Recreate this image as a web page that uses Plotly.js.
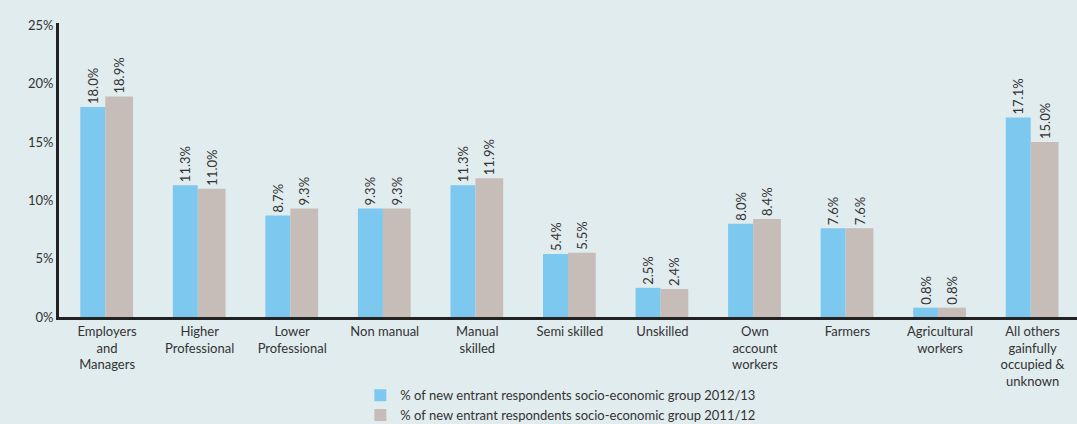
<!DOCTYPE html>
<html><head><meta charset="utf-8">
<script src="https://cdn.plot.ly/plotly-3.0.1.min.js"></script>
<style>html,body{margin:0;padding:0;background:#E1ECEE;}</style>
</head><body>
<div id="chart" style="width:1077px;height:424px;"></div>
<script>
const categories = ["Employers<br>and<br>Managers","Higher<br>Professional","Lower<br>Professional","Non manual","Manual<br>skilled","Semi skilled","Unskilled","Own<br>account<br>workers","Farmers","Agricultural<br>workers","All others<br>gainfully<br>occupied &<br>unknown"];
const series2013 = [18.0, 11.3, 8.7, 9.3, 11.3, 5.4, 2.5, 8.0, 7.6, 0.8, 17.1];
const series2012 = [18.9, 11.0, 9.3, 9.3, 11.9, 5.5, 2.4, 8.4, 7.6, 0.8, 15.0];
const seriesNames = ["% of new entrant respondents socio-economic group 2012/13","% of new entrant respondents socio-economic group 2011/12"];
const yTickVals = [0,5,10,15,20,25];
const yTickText = ["0%","5%","10%","15%","20%","25%"];

const xs = categories.map((c,i)=>i);
const pad = "\u00a0\u00a0";
const font = {family:"Lato, 'Open Sans', sans-serif", color:"#333333", size:13};
const traces = [
  {type:"bar", x:xs, y:series2013, name:seriesNames[0], marker:{color:"#7DC8EE"},
   width:0.27, offset:-0.29, text:series2013.map(v=>v.toFixed(1)+"%"+pad), textposition:"outside",
   textangle:-90, constraintext:"none", textfont:{family:font.family,size:13,color:"#333"}, cliponaxis:false, hoverinfo:"none"},
  {type:"bar", x:xs, y:series2012, name:seriesNames[1], marker:{color:"#C6BDB8"},
   width:0.30, offset:-0.02, text:series2012.map(v=>v.toFixed(1)+"%"+pad), textposition:"outside",
   textangle:-90, constraintext:"none", textfont:{family:font.family,size:13,color:"#333"}, cliponaxis:false, hoverinfo:"none"}
];
const layout = {
  width:1077, height:424,
  paper_bgcolor:"#E1ECEE", plot_bgcolor:"#E1ECEE",
  margin:{l:59, r:0, t:23, b:107, autoexpand:false},
  font:font,
  uniformtext:{mode:"show", minsize:13},
  showlegend:true,
  legend:{orientation:"v", x:0.296, xanchor:"left", y:-0.215, yanchor:"top",
    font:{family:font.family,size:13,color:"#333"}, bgcolor:"rgba(0,0,0,0)",
    tracegroupgap:0, itemwidth:30, traceorder:"normal"},
  xaxis:{range:[-0.52,10.48], tickvals:xs, ticktext:categories, showline:true, linecolor:"#222",
    linewidth:3, ticks:"", showgrid:false, zeroline:false, tickfont:{family:font.family,size:13,color:"#333"}, fixedrange:true},
  yaxis:{range:[0,25.2], tickvals:yTickVals, ticktext:yTickText, showline:true, linecolor:"#222",
    linewidth:3, ticks:"", showgrid:false, zeroline:false, tickfont:{family:font.family,size:13,color:"#333"}, fixedrange:true}
};
Plotly.newPlot("chart", traces, layout, {displayModeBar:false, staticPlot:true});
</script>
</body></html>
